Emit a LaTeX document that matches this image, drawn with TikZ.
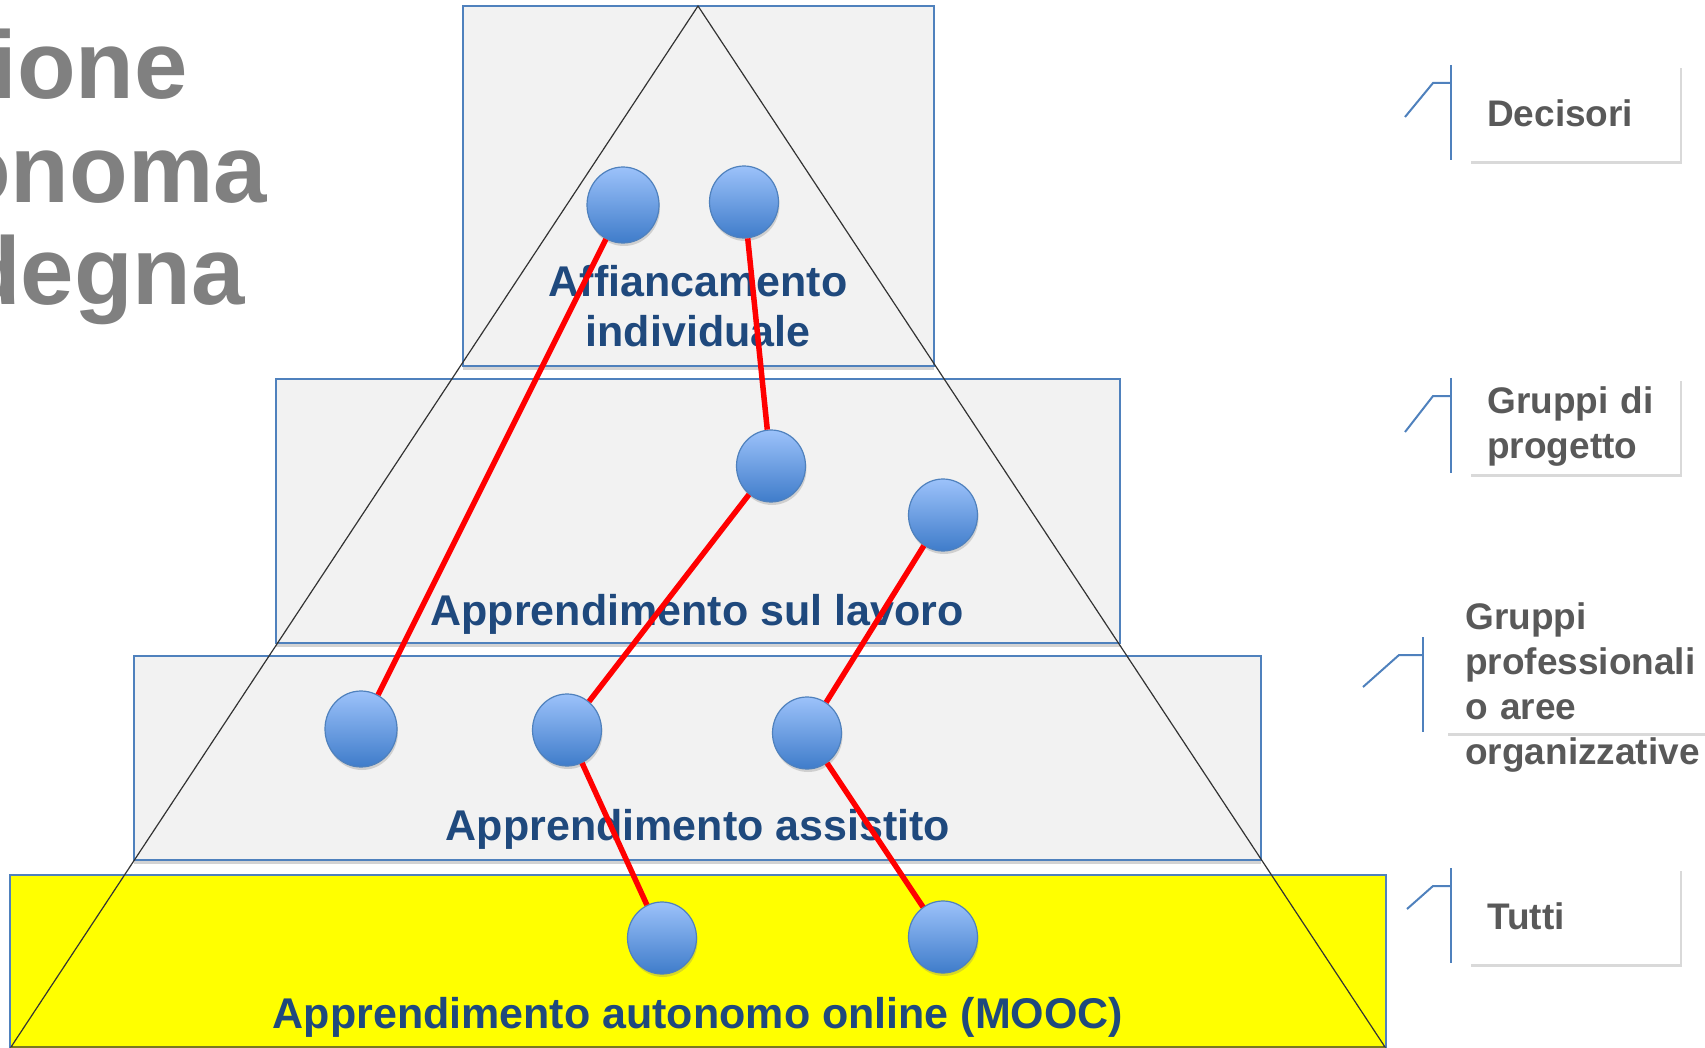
\documentclass[tikz,border=0pt]{standalone}
\usepackage{fontspec}
\setmainfont{Liberation Sans}
\usetikzlibrary{shapes.geometric,shadows}
\definecolor{tierfill}{HTML}{F2F2F2}
\definecolor{tierline}{HTML}{4F81BD}
\definecolor{tiertext}{HTML}{1F497D}
\definecolor{dottop}{HTML}{9CC2FA}
\definecolor{dotbottom}{HTML}{3F7CCA}
\definecolor{grouptext}{HTML}{595959}
\definecolor{titlegray}{HTML}{808080}
\definecolor{moocyellow}{HTML}{FFFF00}

\begin{document}
\begin{tikzpicture}[x=1pt, y=-1pt,
    tier/.style = {fill=tierfill, draw=tierline, line width=1.5pt,
      drop shadow={shadow xshift=0pt, shadow yshift=-4pt, opacity=0.35}},
    tierlabel/.style = {text=tiertext, font=\bfseries\fontsize{43}{50}\selectfont, inner sep=0pt, align=center},
    title/.style = {anchor=base east, text=titlegray, font=\bfseries\fontsize{96}{103}\selectfont, inner sep=0pt},
    dot/.style = {ellipse, minimum width=69pt, minimum height=72pt, inner sep=0pt, draw=tierline, line width=1.2pt,
      top color=dottop, bottom color=dotbottom,
      drop shadow={shadow xshift=1pt, shadow yshift=-3pt, opacity=0.3}},
    link/.style = {red, line width=5.5pt},
    groupshadow/.style = {drop shadow={shadow xshift=2pt, shadow yshift=-3pt, opacity=0.3}},
    grouplabel/.style = {text=grouptext, font=\bfseries\fontsize{37}{45}\selectfont, inner sep=0pt, align=left},
    groupbox/.style = {grouplabel, anchor=north west, fill=white, groupshadow,
      inner xsep=18pt, minimum height=96pt, text width=175pt},
    bracket/.style = {draw=tierline, line width=2pt}]
    \useasboundingbox (0,0) rectangle (1705,1048);
    \clip (0,0) rectangle (1705,1048);
    % title, cut at the page edge
    \node [title] (tl1) at (188,99) {ione};
    \node [title] (tl2) at (267,203) {onoma};
    \node [title] (tl3) at (245,305) {degna};
    % the four tiers
    \draw [tier] (463,6) rectangle (934,366);
    \draw [tier] (276,379) rectangle (1120,643);
    \draw [tier] (134,656) rectangle (1261,860);
    \draw [tier, fill=moocyellow] (10,875) rectangle (1386,1060);
    \node [tierlabel, anchor=base] (affianc) at (698,347) {Affiancamento\\individuale};
    \node [tierlabel, anchor=base] (lavoro) at (697,625) {Apprendimento sul lavoro};
    \node [tierlabel, anchor=base] (assist) at (698,840) {Apprendimento assistito};
    \node [tierlabel, anchor=base] (mooc) at (698,1028) {Apprendimento autonomo online (MOOC)};
    \draw [line width=1.2pt, black!80] (698,6) -- (11,1047) -- (1385,1047) -- cycle;
    % people
    \node [dot, minimum width=72pt, minimum height=76pt] (aff1) at (623,205) {};
    \node [dot] (aff2) at (744,202) {};
    \node [dot] (lav1) at (771,466) {};
    \node [dot] (lav2) at (943,515) {};
    \node [dot, minimum width=72pt, minimum height=76pt] (ass1) at (361,729) {};
    \node [dot] (ass2) at (567,730) {};
    \node [dot] (ass3) at (807,733) {};
    \node [dot] (mooc1) at (662,938) {};
    \node [dot] (mooc2) at (943,937) {};
    \draw [link] (aff1) -- (ass1);
    \draw [link] (aff2) -- (lav1);
    \draw [link] (lav1) -- (ass2);
    \draw [link] (lav2) -- (ass3);
    \draw [link] (ass2) -- (mooc1);
    \draw [link] (ass3) -- (mooc2);
    % target groups
    \node [groupbox] (decisori) at (1469,65) {Decisori};
    \node [groupbox] (progetto) at (1469,378) {Gruppi di\\progetto};
    \fill [white, groupshadow] (1446,637) rectangle (1720,733);
    \node [grouplabel, anchor=west, text width=260pt] (aree) at (1465,688) {Gruppi\\professionali\\o aree\\organizzative};
    \node [groupbox] (tutti) at (1469,868) {Tutti};
    \draw [bracket] (1405,117) -- (1433,83) -- (1451,83);
    \draw [bracket] (1451,65) -- (1451,160);
    \draw [bracket] (1405,432) -- (1433,396) -- (1451,396);
    \draw [bracket] (1451,378) -- (1451,473);
    \draw [bracket] (1363,687) -- (1399,655) -- (1423,655);
    \draw [bracket] (1423,637) -- (1423,732);
    \draw [bracket] (1407,909) -- (1433,886) -- (1451,886);
    \draw [bracket] (1451,868) -- (1451,963);
\end{tikzpicture}
\end{document}
